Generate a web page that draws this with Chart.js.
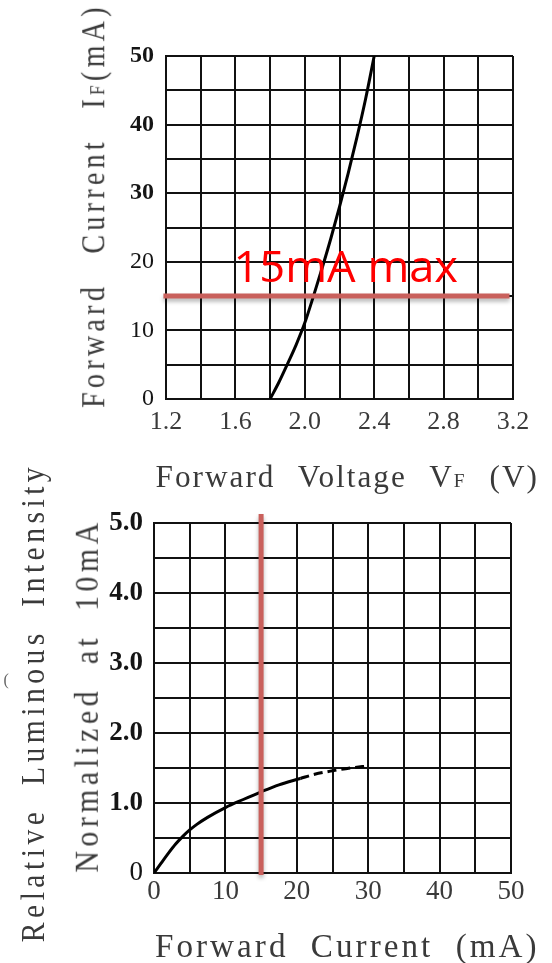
<!DOCTYPE html>
<html><head><meta charset="utf-8">
<script src="https://cdn.jsdelivr.net/npm/chart.js@4.4.1/dist/chart.umd.min.js"></script>
<style>
html,body{margin:0;padding:0;background:#fff;}
body{width:552px;height:963px;position:relative;overflow:hidden;}
#c1w{position:absolute;left:0;top:0;width:552px;height:490px;}
#c2w{position:absolute;left:0;top:490px;width:552px;height:473px;}
canvas{display:block;}
.t{position:absolute;white-space:nowrap;font-family:"Liberation Serif",serif;color:#3a3a3a;line-height:1;transform-origin:50% 50%;}
.sub{font-size:0.62em;}
</style></head><body>
<div id="c1w"><canvas id="c1" width="552" height="490"></canvas></div>
<div id="c2w"><canvas id="c2" width="552" height="473"></canvas></div>
<script>
// ---- Chart 1: forward current vs forward voltage ----
const vfVoltage = [1.80, 1.85, 1.90, 1.95, 2.00, 2.05, 2.10, 2.15, 2.20, 2.25, 2.30, 2.35, 2.40];
const vfCurrent = [0, 2.4, 5.1, 7.9, 11.1, 15.0, 19.1, 23.4, 28.0, 32.9, 38.1, 43.7, 50];
const limitVoltage = [1.185, 3.18];
const limitCurrent = [15, 15];
const voltageTickLabels = ['1.2', '1.6', '2.0', '2.4', '2.8', '3.2'];
const currentTickLabels = ['0', '10', '20', '30', '40', '50'];

// ---- Chart 2: relative luminous intensity vs forward current ----
const ivCurrentSolid = [0, 1, 2, 3, 4, 5, 6, 7.5, 10, 12.5, 15, 17.5, 20.5];
const ivIntensitySolid = [0, 0.14, 0.28, 0.41, 0.52, 0.615, 0.695, 0.795, 0.935, 1.05, 1.16, 1.26, 1.35];
const ivCurrentDashed = [20.5, 22.5, 25, 27.5, 30];
const ivIntensityDashed = [1.35, 1.41, 1.46, 1.50, 1.53];
const markCurrent = [15, 15];
const markIntensity = [-0.03, 5.13];
const mAtickLabels = ['0', '10', '20', '30', '40', '50'];
const intensityTickLabels = ['0', '1.0', '2.0', '3.0', '4.0', '5.0'];

const zip = (xs, ys) => xs.map((x, i) => ({x: x, y: ys[i]}));
const GRID = '#111';
const RED = '#c9605c';
const SERIF = '"Liberation Serif", serif';

const shadowPlugin = {
  id: 'shadow',
  beforeDatasetDraw(chart, args) {
    if (chart.data.datasets[args.index].shadow) {
      const c = chart.ctx; c.save();
      c.shadowColor = 'rgba(0,0,0,0.3)'; c.shadowBlur = 4; c.shadowOffsetY = 3;
    }
  },
  afterDatasetDraw(chart, args) {
    if (chart.data.datasets[args.index].shadow) chart.ctx.restore();
  }
};

function baseOpts() {
  return {
    responsive: false, animation: false, events: [],
    plugins: {legend: {display: false}, tooltip: {enabled: false}},
    elements: {point: {radius: 0}}
  };
}

const o1 = baseOpts();
o1.layout = {padding: {top: 56, right: 39, left: 0, bottom: 0}};
o1.scales = {
  x: {type: 'linear', min: 1.2, max: 3.2,
      afterFit: s => { s.height = 91; },
      grid: {color: GRID, lineWidth: 2, drawTicks: false},
      border: {color: GRID, width: 2},
      ticks: {stepSize: 0.2, autoSkip: false, maxRotation: 0, padding: 8, color: '#3a3a3a',
              font: {family: SERIF, size: 26},
              callback: (v, i) => i % 2 === 0 ? voltageTickLabels[i / 2] : ''}},
  y: {type: 'linear', min: 0, max: 50,
      afterFit: s => { s.width = 166; },
      grid: {color: GRID, lineWidth: 2, drawTicks: false},
      border: {color: GRID, width: 2},
      ticks: {stepSize: 5, autoSkip: false, padding: 12, color: '#151515',
              font: c => ({family: SERIF, size: 24, weight: (c.tick && c.tick.value >= 30) ? 'bold' : 'normal'}),
              callback: (v, i) => i % 2 === 0 ? currentTickLabels[i / 2] : ''}}
};

new Chart(document.getElementById('c1'), {
  type: 'line',
  data: {datasets: [
    {data: zip(limitVoltage, limitCurrent), borderColor: RED, borderWidth: 5, clip: false, shadow: true, borderCapStyle: 'butt'},
    {data: zip(vfVoltage, vfCurrent), borderColor: '#000', borderWidth: 3, cubicInterpolationMode: 'monotone'}
  ]},
  options: o1,
  plugins: [shadowPlugin]
});

const o2 = baseOpts();
o2.layout = {padding: {top: 33, right: 41, left: 0, bottom: 0}};
o2.scales = {
  x: {type: 'linear', min: 0, max: 50,
      afterFit: s => { s.height = 90; },
      grid: {color: GRID, lineWidth: 2, drawTicks: false},
      border: {color: GRID, width: 2},
      ticks: {stepSize: 5, autoSkip: false, maxRotation: 0, padding: 3, color: '#3a3a3a',
              font: {family: SERIF, size: 27},
              callback: (v, i) => i % 2 === 0 ? mAtickLabels[i / 2] : ''}},
  y: {type: 'linear', min: 0, max: 5,
      afterFit: s => { s.width = 154; },
      grid: {color: GRID, lineWidth: 2, drawTicks: false},
      border: {color: GRID, width: 2},
      ticks: {stepSize: 0.5, autoSkip: false, padding: 11, color: '#151515',
              font: c => ({family: SERIF, size: 27, weight: (c.tick && c.tick.value > 0) ? 'bold' : 'normal'}),
              callback: (v, i) => i % 2 === 0 ? intensityTickLabels[i / 2] : ''}}
};

new Chart(document.getElementById('c2'), {
  type: 'line',
  data: {datasets: [
    {data: zip(markCurrent, markIntensity), borderColor: RED, borderWidth: 5, clip: false, shadow: true, borderCapStyle: 'butt'},
    {data: zip(ivCurrentSolid, ivIntensitySolid), borderColor: '#000', borderWidth: 3, cubicInterpolationMode: 'monotone'},
    {data: zip(ivCurrentDashed, ivIntensityDashed), borderColor: '#000', borderWidth: 3, borderDash: [9, 5], cubicInterpolationMode: 'monotone'}
  ]},
  options: o2,
  plugins: [shadowPlugin]
});

// ---- Text placement (real text, scaled to fit) ----
function placeText(html, cx, cy, size, len, rot, o) {
  o = o || {};
  const d = document.createElement('div');
  d.className = 't';
  d.innerHTML = html;
  d.style.fontSize = size + 'px';
  if (o.family) d.style.fontFamily = o.family;
  if (o.color) d.style.color = o.color;
  if (o.ls != null) d.style.letterSpacing = o.ls + 'px';
  if (o.ws != null) d.style.wordSpacing = o.ws + 'px';
  document.body.appendChild(d);
  const w = d.offsetWidth - (o.ls || 0), h = d.offsetHeight;
  const s = len ? len / w : 1;
  d.style.left = (cx - w / 2) + 'px';
  d.style.top = (cy - h / 2) + 'px';
  d.style.transform = 'rotate(' + rot + 'deg) scaleX(' + s + ')';
  return d;
}

placeText('Forward&nbsp; Current&nbsp; I<span class="sub">F</span>(mA)', 91, 205, 33, 400, -90, {ls: 5, ws: 4});
placeText('Forward Voltage V<span class="sub">F</span> (V)', 346, 476, 31, 381, 0, {ls: 2, ws: 13});
placeText('15mA max', 345.5, 265, 43, 225, 0, {family: '"Open Sans", sans-serif', color: '#ff0000'});

placeText('Relative Luminous Intensity', 31, 702, 33, 475, -90, {ls: 5, ws: 12});
placeText('Normalized at 10mA', 85, 695, 33, 350, -90, {ls: 5, ws: 12});
placeText('Forward Current (mA)', 346, 946, 33, 382, 0, {ls: 3, ws: 11});
placeText('(', 6, 680, 16, 0, 0, {color: '#666'});
</script>
</body></html>
